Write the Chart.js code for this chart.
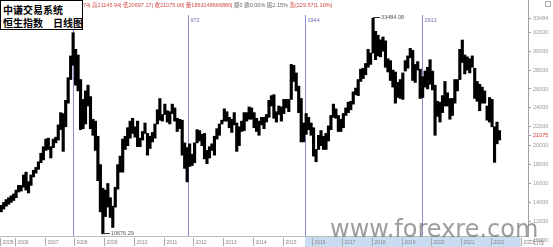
<!DOCTYPE html>
<html><head><meta charset="utf-8">
<title>恒生指数 日线图</title>
<script src="https://cdn.jsdelivr.net/npm/chart.js@4.4.1/dist/chart.umd.min.js"></script>
<style>
html,body{margin:0;padding:0;background:#fff;overflow:hidden;}
#wrap{position:relative;width:553px;height:247px;}
#c{position:absolute;left:0;top:0;}
#box{position:absolute;left:0;top:0;width:81px;height:28px;border:1px solid #000;background:#fff;font:bold 10px "Noto Sans CJK SC",sans-serif;color:#000;line-height:12px;}
#box div{padding-left:2px;white-space:nowrap;}
#hdr{position:absolute;left:83px;top:0;font:5.5px "Liberation Sans","Noto Sans CJK SC",sans-serif;line-height:10px;white-space:nowrap;color:#666;}
.r{color:#d04848}
#wm{position:absolute;left:330px;top:217px;font:24px "DejaVu Sans",sans-serif;line-height:24px;color:rgba(110,110,110,0.68);white-space:nowrap;pointer-events:none;}
</style></head>
<body>
<div id="wrap">
<canvas id="c" width="553" height="247"></canvas>
<div id="hdr"><span class="r">74| 高21145.94| 低20697.17| 收21075.00| 量1863148666880|</span> 额0 跌0.00% 振2.15% <span class="r">涨(229.57|1.10%)</span></div>
<div id="box"><div style="margin-top:3px">中谦交易系统</div><div style="margin-top:1px">恒生指数　日线图</div></div>
<div id="wm">www.forexre.com</div>
</div>
<script>
// ---- data, one bin per month starting 2005-07 ----
const lows = [
13000,13300,13600,13800,14000,14200,14500,15100,15200,15600,15300,15000,15800,16700,17100,17500,18200,18500,
19500,19600,18700,19800,20300,20600,21700,19400,22000,24500,27000,28500,26400,25800,21700,21800,22300,24200,
21800,21100,19500,16300,13000,10676.29,12500,13500,12400,11345,13500,15400,17200,17200,19600,20000,20800,21300,
20900,19900,19900,20600,21300,19000,19700,20400,20800,22300,22700,22600,23300,22500,22300,23400,22600,21500,
21800,19000,17600,16170,17800,17900,18200,20300,20500,20000,18600,18100,18700,19500,19000,20700,21100,22300,
22600,22600,21900,21400,22200,19400,20000,21500,21600,22600,22800,22800,21900,21500,21100,22200,21800,22500,
23000,24200,22900,22500,23300,22600,23400,24000,23600,24900,26800,25800,23500,20400,20400,21200,21700,21100,
18900,18300,19600,20000,19600,19600,20500,21700,23000,22900,21500,21500,21900,23200,23500,23800,24400,25400,
25300,26800,27100,27500,28300,28600,29800,29100,29500,29400,30000,28300,27800,26900,26200,24500,25100,25000,
24900,27900,28200,29300,26900,26700,28000,25000,25100,26200,26000,26500,25900,21100,23100,22500,23500,24200,
24200,22800,23200,24500,25800,27000,28800,27600,28000,27700,28300,25000,24700,23700,24500,24500,22700,22500,
22000,18235,20200,20600
];
const highs = [
13700,14000,14300,14500,14700,14900,15300,15800,15800,16900,17200,16200,16900,17400,17700,18300,19200,19900,
20700,20800,19900,20700,20900,22200,23500,23400,24800,27200,29500,31958,30200,29600,27000,24900,25800,26400,
25200,22800,22600,21000,18000,15500,15300,16000,14500,13600,15600,18000,18900,20700,21000,21900,22600,22900,
22000,22600,20800,21500,22400,21300,21000,21400,22300,23800,24990,23300,24400,23700,23600,24400,24000,22900,
22800,22700,20300,19800,20200,19100,20300,21700,21600,21200,21300,19500,19900,20200,21000,21800,22300,22700,
23900,23600,23000,22800,23500,22400,22000,22600,23500,23500,24100,24000,23500,22900,22600,23000,23000,23300,
24800,25300,25400,23600,24200,24100,24900,24900,24900,28600,28500,27700,26300,25000,22400,23400,23000,22400,
21900,19600,21100,21600,21000,21300,22100,23200,24400,23900,23200,22800,23400,24000,24600,24700,25700,26100,
27000,28100,28200,28700,30200,29800,33484.08,32100,31700,31200,31500,31100,29200,29000,28000,27800,26700,27000,
27700,29000,29500,30300,30100,28600,28900,28100,27300,27900,28300,29100,27900,26400,24700,24600,25300,26800,
25600,25000,25000,27000,27000,30200,31183,29600,29400,29200,29500,28200,26800,26500,26200,25800,24200,25100,
24900,22000,22500,21600
];
const firstYear = 2005, firstMonth = 7, monthCount = 213;
const yTicks = [10000,12000,14000,16000,18000,20000,21075,22000,24000,26000,28000,30000,32000,33484];
const lastClose = 21075;
const cycleIdx = [29, 75.5, 122.5, 169.7];
const cycleLabels = ['', '972', '1944', '2912'];

const months = [];
for (let i = 0; i < monthCount; i++) {
  const t = firstMonth - 1 + i;
  months.push((firstYear + Math.floor(t / 12)) + '-' + String(t % 12 + 1).padStart(2, '0'));
}
const bars = lows.map((l, i) => [l, highs[i]]);

const small = '5.5px "Liberation Sans", "Noto Sans CJK SC", sans-serif';

const cyclePlugin = {
  id: 'cycles',
  beforeDatasetsDraw(chart) {
    const {ctx, chartArea, scales: {x}} = chart;
    ctx.save();
    cycleIdx.forEach((v, k) => {
      const px = Math.round(x.getPixelForValue(v)) + 0.5;
      ctx.strokeStyle = '#8c8cd2';
      ctx.lineWidth = 1;
      ctx.beginPath(); ctx.moveTo(px, 15); ctx.lineTo(px, chartArea.bottom); ctx.stroke();
      if (cycleLabels[k]) {
        ctx.fillStyle = '#6a6ab4';
        ctx.font = small;
        ctx.textBaseline = 'middle';
        ctx.fillText(cycleLabels[k], px + 2, 20);
      }
    });
    ctx.restore();
  }
};

const extremePlugin = {
  id: 'extremes',
  afterDatasetsDraw(chart) {
    const {ctx, scales: {x, y}} = chart;
    let hi = 0, lo = 0;
    highs.forEach((v, i) => { if (v > highs[hi]) hi = i; });
    lows.forEach((v, i) => { if (v < lows[lo]) lo = i; });
    ctx.save();
    ctx.font = small; ctx.textBaseline = 'middle'; ctx.fillStyle = '#555'; ctx.strokeStyle = '#333'; ctx.lineWidth = 1;
    [[hi, highs[hi]], [lo, lows[lo]]].forEach(([i, v]) => {
      const px = x.getPixelForValue(i), py = Math.round(y.getPixelForValue(v)) - 0.5;
      ctx.beginPath(); ctx.moveTo(px, py); ctx.lineTo(px + 7, py); ctx.stroke();
      ctx.fillText(v.toFixed(2), px + 8, py);
    });
    ctx.restore();
  }
};

const xAxisPlugin = {
  id: 'xaxisband',
  afterDraw(chart) {
    const {ctx, chartArea, scales: {x}} = chart;
    const top = chartArea.bottom, w = x.getPixelForValue(1) - x.getPixelForValue(0);
    ctx.save();
    ctx.fillStyle = '#fff';
    ctx.fillRect(0, top + 1, chartArea.right, 247 - top);
    const b0 = x.getPixelForValue(cycleIdx[2]);
    const b1 = x.getPixelForValue(months.indexOf((firstYear + 18) + '-01')) - w / 2;
    ctx.fillStyle = '#c9dcf2';
    ctx.fillRect(b0, top + 1, b1 - b0, 247 - top);
    ctx.strokeStyle = '#bbb'; ctx.lineWidth = 1;
    ctx.beginPath(); ctx.moveTo(0, top + 0.5); ctx.lineTo(chartArea.right, top + 0.5); ctx.stroke();
    ctx.font = '5px "Liberation Sans", sans-serif';
    ctx.textBaseline = 'alphabetic';
    months.forEach((m, i) => {
      if (i !== 0 && !m.endsWith('-01')) return;
      const sx = i === 0 ? 0.5 : Math.round(x.getPixelForValue(i) - w / 2) + 0.5;
      ctx.strokeStyle = '#aaa';
      ctx.beginPath(); ctx.moveTo(sx, top + 2); ctx.lineTo(sx, top + 10); ctx.stroke();
      ctx.fillStyle = '#888';
      ctx.fillText(m.slice(0, 4), sx + 2, top + 8);
    });
    ctx.fillStyle = '#888';
    ctx.font = small;
    ctx.fillText('日线', chartArea.right + 5, top + 8);
    ctx.strokeStyle = '#aaa';
    ctx.strokeRect(545.5, 1.5, 5, 5);
    ctx.restore();
  }
};

new Chart(document.getElementById('c'), {
  type: 'bar',
  data: {
    labels: months,
    datasets: [{
      data: bars,
      backgroundColor: '#000',
      borderWidth: 0,
      barPercentage: 1,
      categoryPercentage: 1
    }]
  },
  options: {
    responsive: false,
    animation: false,
    devicePixelRatio: 1,
    layout: {padding: {left: 0, right: 0, top: 0, bottom: 11}},
    plugins: {legend: {display: false}, tooltip: {enabled: false}},
    scales: {
      x: {display: false, offset: true},
      y: {
        position: 'right',
        min: 10444, max: 35418,
        bounds: 'data',
        afterBuildTicks(s) { s.ticks = yTicks.map(v => ({value: v})); },
        afterFit(s) { s.width = 25; s.paddingTop = 0; s.paddingBottom = 0; },
        grid: {drawOnChartArea: false, drawTicks: true, tickLength: 3, color: '#a0a0a0'},
        border: {display: true, color: '#a0a0a0'},
        ticks: {
          autoSkip: false, padding: 2,
          font: {size: 5.5, family: '"Liberation Sans", sans-serif'},
          color: c => (c.tick && c.tick.value === lastClose) ? '#e03030' : '#999',
          callback: v => String(v)
        }
      }
    }
  },
  plugins: [cyclePlugin, extremePlugin, xAxisPlugin]
});
</script>
</body></html>
